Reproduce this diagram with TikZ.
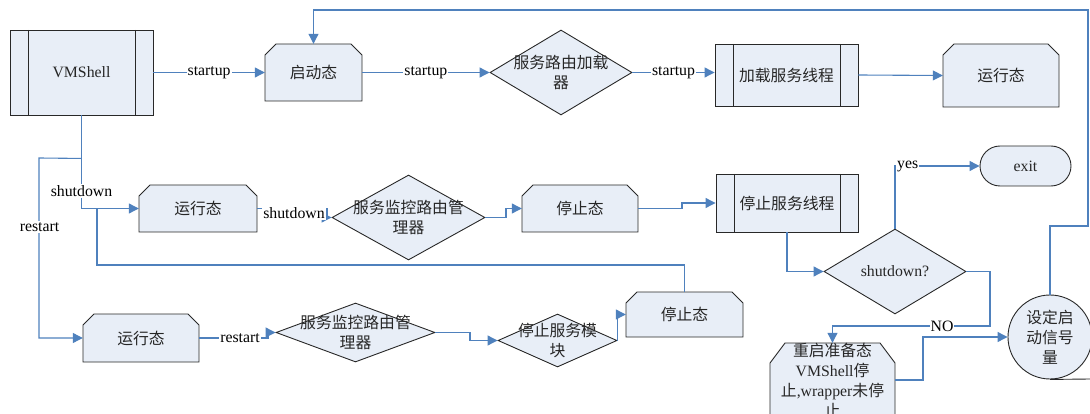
\documentclass[tikz,border=0pt]{standalone}
\usepackage{fontspec}
\setmainfont{Liberation Serif}
\newfontfamily\cjk{Noto Sans CJK SC}
\usetikzlibrary{arrows.meta,shapes.geometric}

\definecolor{boxfill}{RGB}{232,238,247}
\definecolor{linkblue}{RGB}{79,129,189}
\definecolor{edgegray}{RGB}{40,40,40}

\tikzset{
  every node/.style={font=\fontsize{15.8}{20}\selectfont, text=black!85},
  zh/.style={font=\fontsize{15.8}{20}\selectfont\cjk},
  boxline/.style={draw=edgegray, line width=0.9pt, fill=boxfill},
  procbox/.style={boxline, rectangle, inner sep=0pt, path picture={
      \draw[edgegray, line width=0.9pt]
        ([xshift=18pt]path picture bounding box.north west) -- ([xshift=18pt]path picture bounding box.south west)
        ([xshift=-18pt]path picture bounding box.north east) -- ([xshift=-18pt]path picture bounding box.south east);}},
  decision/.style={boxline, diamond, inner sep=0pt},
  caption/.style={align=center, inner sep=0pt},
  link/.style={draw=linkblue, line width=1.1pt, -{Triangle[length=10pt,width=10pt]}},
  plainlink/.style={draw=linkblue, line width=1.1pt},
  lbl/.style={fill=white, inner sep=1pt, text=black},
}

% state box with the two upper corners cut off:
% name, left, top, right, bottom, cut-x, cut-y, text
\newcommand\stateshape[8]{%
  \filldraw[boxline] (#2,#3+#7) -- (#2+#6,#3) -- (#4-#6,#3) -- (#4,#3+#7) -- (#4,#5) -- (#2,#5) -- cycle;
  \node[caption, zh, minimum width={#4pt-#2pt}, minimum height={#5pt-#3pt}] (#1) at ({(#2+#4)/2},{(#3+#5)/2}) {#8};}

\begin{document}
\begin{tikzpicture}[x=1pt, y=-1pt]
\clip (0,0) rectangle (1090,414);

% ---- start-up row
\node[procbox, minimum width=143pt, minimum height=85pt] (vm) at (81.5,72.5) {VMShell};
\stateshape{qd}{265}{44}{362}{101}{11}{11}{启动态}
\node[decision, minimum width=142pt, minimum height=85pt] (ld) at (561,72.5) {};
\node[caption, zh] (ldt) at (ld) {服务路由加载\\器};
\node[procbox, zh, minimum width=143pt, minimum height=62pt] (jz) at (786.5,75) {加载服务线程};
\stateshape{yx1}{943}{44}{1059}{107}{11}{11}{运行态}

% ---- shutdown row
\stateshape{yx2}{139}{185}{257}{232}{11}{11}{运行态}
\node[decision, minimum width=153pt, minimum height=85pt] (d2) at (408.5,217.5) {};
\node[caption, zh] (d2t) at (d2) {服务监控路由管\\理器};
\stateshape{tz1}{522}{185}{638}{232}{11}{11}{停止态}
\node[procbox, zh, minimum width=142pt, minimum height=58pt] (tzxc) at (787,203) {停止服务线程};
\node[decision, minimum width=142pt, minimum height=85pt] (sd) at (895,271.5) {shutdown?};
\node[boxline, rounded corners=20pt, minimum width=91pt, minimum height=40pt] (exit) at (1025.5,166) {exit};
\stateshape{ra}{770}{343}{895}{417}{15}{20}{重启准备态\\{\rmfamily VMShell}停\\止{\rmfamily ,wrapper}未停\\止}
\node[boxline, circle, minimum size=84pt, inner sep=0pt] (sg) at (1050,337) {};
\node[caption, zh] (sgt) at (sg) {设定启\\动信号\\量};
\draw[edgegray, line width=0.9pt] (sg.south) -- (1090,379);

% ---- restart row
\stateshape{yx3}{83}{314}{199}{362}{11}{11}{运行态}
\node[decision, minimum width=159pt, minimum height=59pt] (d3) at (355.5,332.5) {};
\node[caption, zh] (d3t) at (d3) {服务监控路由管\\理器};
\node[decision, minimum width=119pt, minimum height=53pt] (tzmk) at (557.5,340.5) {};
\node[caption, zh] (tzmkt) at (tzmk) {停止服务模\\块};
\stateshape{tz2}{626}{292}{743}{337}{11}{11}{停止态}

% ---- connectors
\draw[link] (vm.east) -- node[lbl] (l1) {startup} (qd.west);
\draw[link] (qd.east) -- node[lbl] (l2) {startup} (ld.west);
\draw[link] (ld.east) -- node[lbl] (l3) {startup} (ld.east -| jz.west);
\draw[link] (jz.east) -- (yx1.west);
\draw[link] (sg.north) -- (1050,226) -- (1088,226) -- (1088,10) -| (qd.north);

\path (vm.south) ++(0,43) coordinate (rsplit);
\coordinate (ssplit) at (97,208.5);
\draw[link] (vm.south) |- (yx2.west);
\draw[link] (rsplit) -- (39,158) |- (yx3.west);
\draw[plainlink] (ssplit) -- (97,265) -| (tz2.north);

\draw[link] (yx2.east) -- (327,208.5) |- (d2.west);
\draw[link] (d2.east) -- (506,217.5) |- (tz1.west);
\draw[link] (tz1.east) -- (682,208.5) |- (tzxc.west);
\draw[link] (tzxc.south) |- (sd.west);
\draw[link] (sd.north) |- (exit.west);
\draw[link] (sd.east) -- (990,271.5) -- (990,326) -| (ra.north);
\draw[link] (ra.east) -- (923,380) |- (sg.west);

\draw[link] (yx3.east) -- (268,338) |- (d3.west);
\draw[link] (d3.east) -- (470,332.5) |- (tzmk.west);
\draw[link] (tzmk.east) |- (tz2.west);

% ---- connector labels
\node[lbl] (l4) at (81.5,191) {shutdown};
\node[lbl] (l5) at (39.5,227) {restart};
\node[lbl] (l6) at (294,213) {shutdown};
\node[lbl, anchor=west] (l7) at (896,166) {yes};
\node[lbl] (l8) at (942,326) {NO};
\node[lbl] (l9) at (240,338) {restart};
\end{tikzpicture}
\end{document}
